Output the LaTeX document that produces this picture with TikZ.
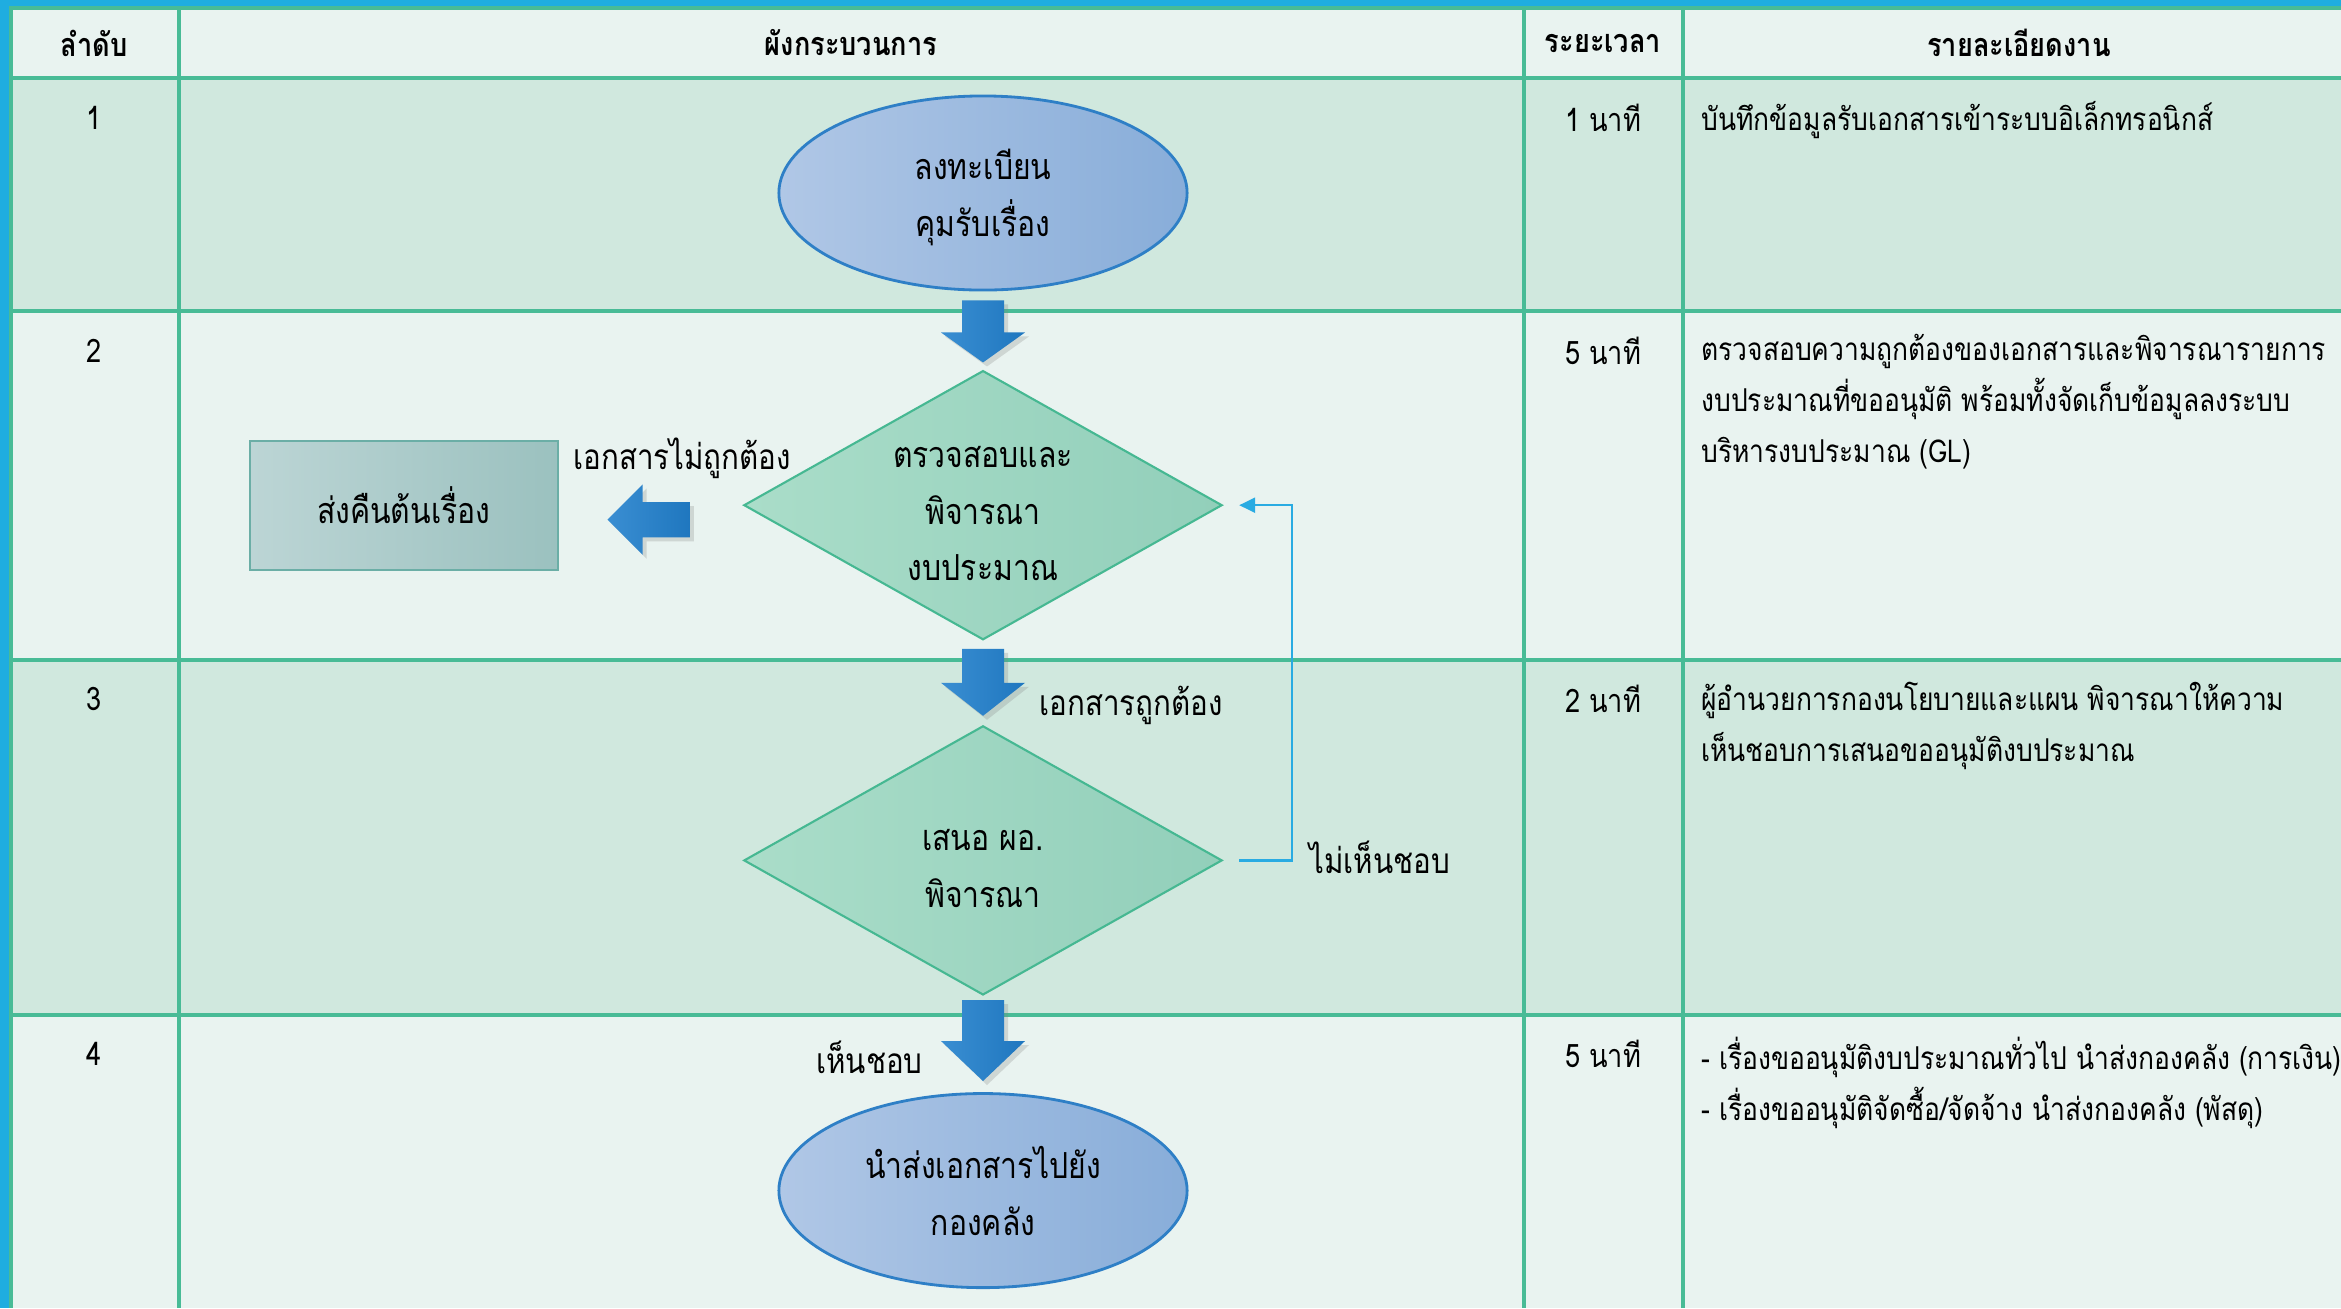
\documentclass[tikz,border=0pt]{standalone}
\usepackage{fontspec}
\setmainfont{Loma}[Script=Thai, FakeStretch=0.84]
\usepackage{xcolor}
\usetikzlibrary{arrows.meta, positioning, shapes.geometric, shadows}

\definecolor{frameblue}{HTML}{1FADE0}
\definecolor{gridgreen}{HTML}{48BB96}
\definecolor{lightrow}{HTML}{E9F3F0}
\definecolor{darkrow}{HTML}{D0E8DE}
\definecolor{elllight}{HTML}{B0C7E6}
\definecolor{elldark}{HTML}{88ADD9}
\definecolor{ellborder}{HTML}{2E7FC6}
\definecolor{dialight}{HTML}{AADDC9}
\definecolor{diadark}{HTML}{92CFBA}
\definecolor{diaborder}{HTML}{46B892}
\definecolor{boxlight}{HTML}{BCD5D5}
\definecolor{boxdark}{HTML}{9BC1BF}
\definecolor{boxborder}{HTML}{6BAEA6}
\definecolor{arrowlight}{HTML}{3A8ED2}
\definecolor{arrowdark}{HTML}{1F77BF}
\definecolor{fbblue}{HTML}{29ABE2}

\tikzset{
  pics/downarrow/.style 2 args={code={
    \path[blockarrow] (-21,0) -- (21,0) -- (21,#1) -- (42,#1) -- (0,#1+#2) -- (-42,#1) -- (-21,#1) -- cycle;
  }}
}

\begin{document}
\begin{tikzpicture}[auto, thick, node distance=3cm, >=stealth, x=0.01cm, y=-0.01cm]

		% Define block styles
		\tikzstyle{startstop} = [ellipse, draw=ellborder, line width=0.8pt, minimum width=4.08cm, minimum height=1.94cm, inner sep=0pt, text depth=0pt, left color=elllight, right color=elldark, align=center, font=\fontsize{10.2}{16.2}\selectfont]
		\tikzstyle{decision} = [diamond, draw=diaborder, line width=0.6pt, aspect=1.78, minimum width=4.78cm, minimum height=2.69cm, inner sep=0pt, text depth=0pt, left color=dialight, right color=diadark, align=center, font=\fontsize{10.2}{16.2}\selectfont]
		\tikzstyle{returnbox} = [rectangle, draw=boxborder, line width=0.6pt, minimum width=3.08cm, minimum height=1.29cm, left color=boxlight, right color=boxdark, font=\fontsize{10.2}{16.2}\selectfont]
		\tikzstyle{blockarrow} = [left color=arrowlight, right color=arrowdark, drop shadow={opacity=0.25, shadow xshift=0.4mm, shadow yshift=-0.4mm}]
		\tikzstyle{feedback} = [-{Triangle[length=1.6mm, width=1.5mm]}, draw=fbblue, line width=0.7pt]
		\tikzstyle{grid} = [draw=gridgreen, line width=0.9pt]
		\tikzstyle{lbl} = [anchor=west, inner sep=0pt, font=\fontsize{10}{16.2}\selectfont]
		\tikzstyle{head} = [inner sep=0pt, font=\fontsize{9.2}{12}\selectfont\bfseries]
		\tikzstyle{cell} = [inner sep=0pt, font=\fontsize{9.2}{14.5}\selectfont]
		\tikzstyle{detail} = [inner sep=0pt, anchor=north west, align=left, font=\fontsize{8.95}{14.5}\selectfont]

		\useasboundingbox (0,0) rectangle (2341,1308);

		% Table
		\fill[lightrow] (9,6) rectangle (2341,78);
		\fill[darkrow] (9,78) rectangle (2341,311);
		\fill[lightrow] (9,311) rectangle (2341,660);
		\fill[darkrow] (9,660) rectangle (2341,1015);
		\fill[lightrow] (9,1015) rectangle (2341,1308);
		\fill[frameblue] (0,0) rectangle (2341,6);
		\fill[frameblue] (0,0) rectangle (9,1308);
		\foreach \y in {8,78,311,660,1015}
			\draw[grid] (9,\y) -- (2341,\y);
		\foreach \x in {11,179,1524,1683}
			\draw[grid] (\x,8) -- (\x,1308);

		% Header
		\node[head] (hno) at (94,43) {ลำดับ};
		\node[head] (hflow) at (851,43) {ผังกระบวนการ};
		\node[head] (htime) at (1603,43) {ระยะเวลา};
		\node[head] (hdetail) at (2019,43) {รายละเอียดงาน};

		% Nodes
		\node[startstop] (reg) at (983,193) {ลงทะเบียน\\คุมรับเรื่อง};
		\node[decision, below of=reg, node distance=3.12cm] (check) {\rule{0pt}{1.05em}ตรวจสอบและ\\พิจารณา\\งบประมาณ};
		\node[returnbox, left of=check, node distance=5.79cm] (back) {ส่งคืนต้นเรื่อง};
		\node[decision, below of=check, node distance=3.55cm] (approve) {\rule{0pt}{1.05em}เสนอ ผอ.\\พิจารณา};
		\node[startstop, below of=approve, node distance=3.3cm] (send) {นำส่งเอกสารไปยัง\\กองคลัง};

		% Arrows
		\pic at ([yshift=-0.09cm]reg.south) {downarrow={32}{30}};
		\pic at ([yshift=-0.08cm]check.south) {downarrow={34}{33}};
		\pic at ([yshift=-0.04cm]approve.south) {downarrow={41}{40}};
		\pic[rotate=-90, scale=0.84] at ([xshift=-0.53cm, yshift=-0.145cm]check.west) {downarrow={56}{42}};
		\draw[feedback] ([xshift=0.16cm]approve.east) -| ([xshift=0.69cm]check.east) -- ([xshift=0.16cm]check.east);

		% Labels
		\node[lbl] (wrong) at (572,458) {เอกสารไม่ถูกต้อง};
		\node[lbl] (right) at (1038,705) {เอกสารถูกต้อง};
		\node[lbl] (reject) at (1308,857) {ไม่เห็นชอบ};
		\node[lbl] (agree) at (815,1057) {เห็นชอบ};

		% Steps
		\node[cell] (n1) at (94,118) {1};
		\node[cell] (n2) at (94,351) {2};
		\node[cell] (n3) at (94,699) {3};
		\node[cell] (n4) at (94,1054) {4};
		\node[cell] (t1) at (1603,118) {1 นาที};
		\node[cell] (t2) at (1603,351) {5 นาที};
		\node[cell] (t3) at (1603,699) {2 นาที};
		\node[cell] (t4) at (1603,1054) {5 นาที};
		\node[detail] (d1) at (1700,100) {บันทึกข้อมูลรับเอกสารเข้าระบบอิเล็กทรอนิกส์};
		\node[detail] (d2) at (1700,333) {ตรวจสอบความถูกต้องของเอกสารและพิจารณารายการ\\งบประมาณที่ขออนุมัติ พร้อมทั้งจัดเก็บข้อมูลลงระบบ\\บริหารงบประมาณ (GL)};
		\node[detail] (d3) at (1700,681) {ผู้อำนวยการกองนโยบายและแผน พิจารณาให้ความ\\เห็นชอบการเสนอขออนุมัติงบประมาณ};
		\node[detail] (d4) at (1700,1036) {- เรื่องขออนุมัติงบประมาณทั่วไป นำส่งกองคลัง (การเงิน)\\- เรื่องขออนุมัติจัดซื้อ/จัดจ้าง นำส่งกองคลัง (พัสดุ)};

\end{tikzpicture}
\end{document}
